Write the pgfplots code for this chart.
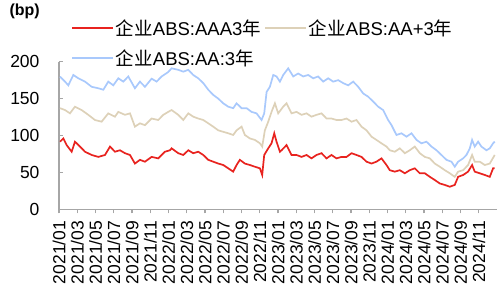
\documentclass[border=0pt]{standalone}
\usepackage{fontspec}
\setmainfont{Liberation Sans}
\newfontfamily\cjk{Noto Sans CJK SC}
\usepackage{pgfplots}
\pgfplotsset{compat=1.18}
\definecolor{cred}{HTML}{E8231F}
\definecolor{cbeige}{HTML}{DDD1B8}
\definecolor{cblue}{HTML}{A9C9FC}
\definecolor{axgray}{HTML}{A6A6A6}
\begin{document}
\begin{tikzpicture}
\useasboundingbox (-59pt,-78.7pt) rectangle (443pt,209.3pt);
\begin{axis}[
 at={(0,0)}, anchor=south west,
 scale only axis, width=438pt, height=147.6pt,
 xmin=0, xmax=48, ymin=0, ymax=200,
 axis x line*=bottom, axis y line*=left,
 axis line style={axgray, line width=1.3pt, -},
 tick align=outside,
 major tick length=4pt,
 tick style={axgray, line width=1.3pt},
 y tick style={xshift=4pt},
 xtick={0,2,...,46},
 xticklabels={2021/01,2021/03,2021/05,2021/07,2021/09,2021/11,2022/01,2022/03,2022/05,2022/07,2022/09,2022/11,2023/01,2023/03,2023/05,2023/07,2023/09,2023/11,2024/01,2024/03,2024/05,2024/07,2024/09,2024/11},
 x tick label style={rotate=90, anchor=east, font=\fontsize{17.5}{17.5}\selectfont, xshift=-4pt},
 ytick={0,50,100,150,200},
 y tick label style={font=\fontsize{17.5}{17.5}\selectfont, xshift=-12pt},
 /pgf/number format/assume math mode=true,
 legend columns=2,
 legend cell align=left,
 legend image code/.code={\draw[#1, line width=2pt] (0pt,0pt) -- (41pt,0pt);},
 legend style={draw=none, fill=none, inner sep=0pt, at={(axis description cs:0.028,1.125)}, anchor=west,
   font=\fontsize{18.5}{18.5}\selectfont, nodes={inner xsep=1.5pt, inner ysep=0pt}, row sep=13pt,
   /tikz/every even column/.append style={column sep=2pt}},
]
\addplot[cred, line width=1.7pt] coordinates {
(0.11,91.6)(0.47,96)(0.84,87)(1.39,78)(1.75,91.6)(2.30,85)(2.85,78)(3.58,73.6)(4.31,71)(5.04,73.6)
(5.59,85)(6.13,78)(6.68,80)(7.23,76)(7.78,73.6)(8.32,62)(8.87,67)(9.42,64.5)(10.15,71)(10.88,69)
(11.61,78)(12.16,80)(12.34,82.6)(13.07,76)(13.62,73.6)(14.17,80)(14.71,76)(15.26,78)(15.81,73.6)(16.36,67)
(16.90,64.5)(17.45,62)(18.00,60)(18.55,55.5)(19.09,51)(19.46,60)(19.82,67)(20.37,62)(20.92,60)(21.47,57.7)
(22.02,55.5)(22.27,46.5)(22.49,73.6)(22.93,82.6)(23.29,89.4)(23.59,103)(23.84,91.6)(24.21,78)(24.39,80)(24.94,87)
(25.48,73.6)(26.03,73.6)(26.58,71)(27.13,73.6)(27.67,69)(28.22,73.6)(28.77,76)(29.32,69)(29.86,73.6)(30.41,69)
(30.96,71)(31.51,71)(32.06,76)(32.60,73.6)(33.15,71)(33.70,64.5)(34.25,62)(34.79,64.5)(35.34,69)(35.89,60)
(36.25,53)(36.80,51)(37.35,53)(37.90,48.8)(38.44,53)(38.99,55.5)(39.54,48.8)(40.09,48.8)(40.64,44)(41.18,39.7)
(41.73,35)(42.28,33)(42.83,30.6)(43.37,33)(43.74,44)(44.29,46.5)(44.83,51)(45.27,60)(45.56,51)(46.11,48.8)
(46.66,46.5)(47.21,44)(47.57,55.5)(47.75,55.5)
};
\addlegendentry{{\cjk 企业}ABS:AAA3{\cjk 年}}
\addplot[cbeige, line width=1.7pt] coordinates {
(0.11,137)(0.66,134.5)(1.20,130)(1.75,139)(2.48,134.5)(3.21,128)(3.94,121)(4.67,118.7)(5.40,130)(6.13,125.5)
(6.50,132)(7.23,128)(7.78,130)(8.32,112)(8.87,116.5)(9.42,114)(10.15,123)(10.88,121)(11.43,128)(11.97,132)
(12.34,134.5)(13.07,128)(13.62,121)(14.17,130)(14.71,125.5)(15.26,123)(15.81,121)(16.36,116.5)(16.90,112)(17.45,107)
(18.00,105)(18.55,103)(19.09,100.7)(19.46,107)(20.01,112)(20.37,100.7)(20.92,96)(21.47,94)(22.02,89.4)(22.27,85)
(22.56,107)(22.93,118.7)(23.29,132)(23.66,143.6)(24.02,130)(24.57,139)(24.94,143.6)(25.48,130)(26.03,132)(26.58,128)
(27.13,130)(27.67,125.5)(28.22,128)(28.77,130)(29.32,123)(29.86,123)(30.41,121)(30.96,121)(31.51,123)(32.06,118.7)
(32.60,121)(33.15,112)(33.70,107)(34.25,98.4)(34.79,94)(35.34,89.4)(35.89,85)(36.25,80)(36.80,78)(37.35,82.6)
(37.90,76)(38.44,80)(38.99,85)(39.54,76)(40.09,71)(40.64,69)(41.18,62)(41.73,57.7)(42.28,53)(42.83,48.8)
(43.37,44)(43.74,51)(44.29,53)(44.83,60)(45.27,73.6)(45.56,64.5)(46.11,64.5)(46.66,60)(47.21,62)(47.75,73.6)
};
\addlegendentry{{\cjk 企业}ABS:AA+3{\cjk 年}}
\addplot[cblue, line width=1.7pt] coordinates {
(0.11,179.7)(0.66,173)(1.02,168)(1.57,182)(2.12,177.5)(2.85,173)(3.58,166)(4.31,164)(4.86,162)(5.40,173)
(5.95,168)(6.50,177.5)(7.05,173)(7.59,180)(8.32,164)(8.87,173)(9.42,166)(10.15,177)(10.70,173)(11.25,180)
(11.97,186)(12.34,191)(13.07,189)(13.62,186.5)(14.17,189)(14.71,182)(15.26,177.5)(15.81,171)(16.36,162)(16.90,155)
(17.45,150)(18.00,143.6)(18.55,139)(19.09,137)(19.46,143.6)(20.01,137)(20.56,137)(21.10,132)(21.65,130)(22.20,121)
(22.49,130)(22.75,159)(23.11,166)(23.48,182)(23.84,180)(24.21,173)(24.57,182)(25.12,191)(25.67,180)(26.21,184)
(26.76,180)(27.31,182)(27.86,177.5)(28.40,180)(28.95,173)(29.50,177.5)(30.05,173)(30.60,175)(31.14,171)(31.69,168)
(32.24,173)(32.79,166)(33.33,157)(33.88,152.6)(34.43,146)(34.98,139)(35.52,134.5)(36.07,121)(36.44,114)(36.98,100.7)
(37.53,103)(38.08,98.4)(38.63,103)(39.18,94)(39.72,89.4)(40.27,91.6)(40.82,85)(41.37,80)(41.91,73.6)(42.46,67)
(43.01,64.5)(43.37,57.7)(43.74,64.5)(44.29,69)(44.65,73.6)(45.02,82.6)(45.27,94)(45.56,85)(45.93,91.6)(46.29,85)
(46.84,80)(47.21,82.6)(47.57,89.4)(47.75,91.6)
};
\addlegendentry{{\cjk 企业}ABS:AA:3{\cjk 年}}
\end{axis}
\node[font=\bfseries\fontsize{16}{16}\selectfont] at (-34.3pt,197.6pt) {(bp)};
\end{tikzpicture}
\end{document}
